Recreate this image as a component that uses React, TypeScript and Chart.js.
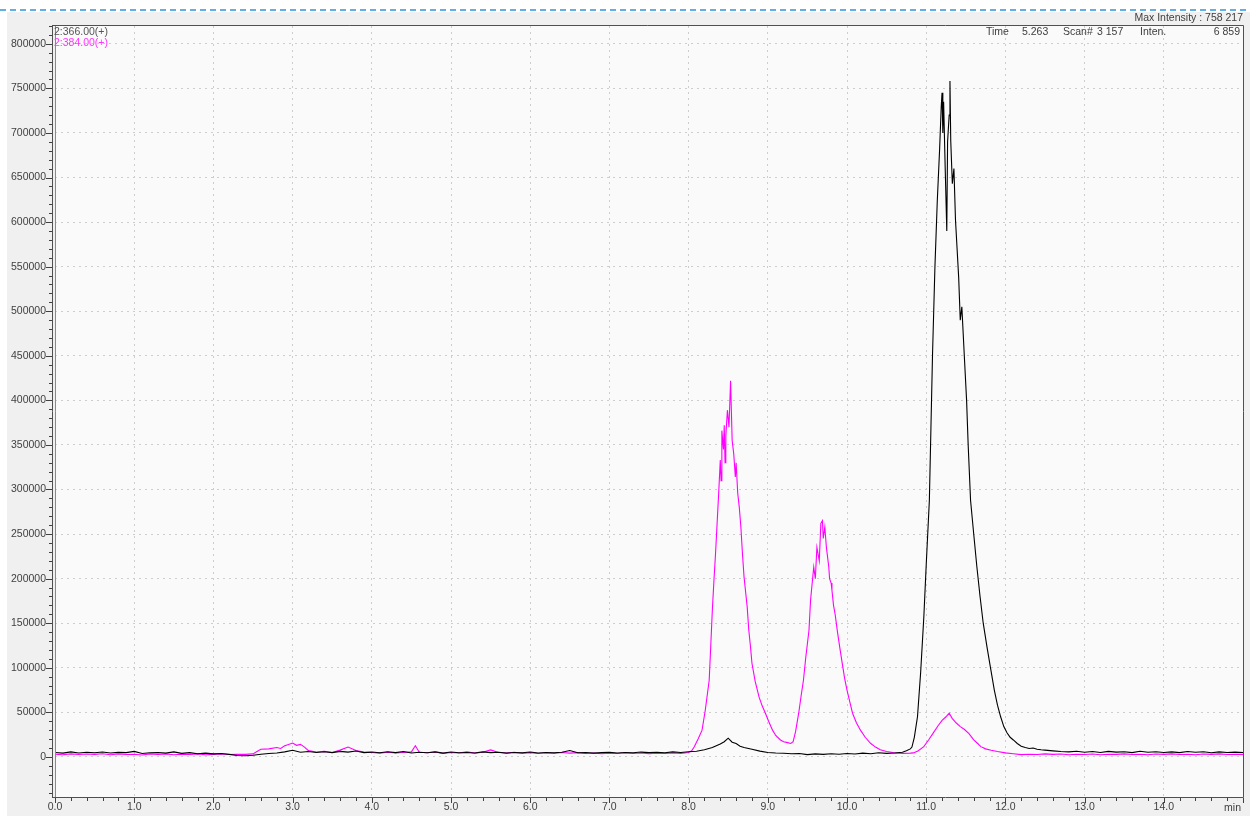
import React, { useEffect, useRef } from 'react';
import { Chart, registerables } from 'chart.js';

Chart.register(...registerables);

// ---- Data (time in min, intensity) ----
const blackLabel = '2:366.00(+)';
const magentaLabel = '2:384.00(+)';

const blackTimes = [
  0.0, 0.1, 0.2, 0.3, 0.4, 0.5, 0.6, 0.7, 0.8, 0.9,
  1.0, 1.1, 1.2, 1.3, 1.4, 1.5, 1.6, 1.7, 1.8, 1.9,
  2.0, 2.1, 2.2, 2.3, 2.4, 2.5, 2.6, 2.7, 2.8, 2.9,
  3.0, 3.1, 3.2, 3.3, 3.4, 3.5, 3.6, 3.7, 3.8, 3.9,
  4.0, 4.1, 4.2, 4.3, 4.4, 4.5, 4.6, 4.7, 4.8, 4.9,
  5.0, 5.1, 5.2, 5.3, 5.4, 5.5, 5.6, 5.7, 5.8, 5.9,
  6.0, 6.1, 6.2, 6.3, 6.4, 6.5, 6.6, 6.7, 6.8, 6.9,
  7.0, 7.1, 7.2, 7.3, 7.4, 7.5, 7.6, 7.7, 7.8, 7.9,
  8.0, 8.1, 8.2, 8.3, 8.35, 8.4, 8.45, 8.5, 8.55, 8.6, 8.65, 8.7, 8.8, 8.9,
  9.0, 9.1, 9.2, 9.3, 9.4, 9.5, 9.6, 9.7, 9.8, 9.9,
  10.0, 10.1, 10.2, 10.3, 10.4, 10.5, 10.6, 10.7, 10.75,
  10.8, 10.82, 10.85, 10.89, 10.93, 10.97, 11.0, 11.04, 11.06, 11.08,
  11.11, 11.14, 11.17, 11.19, 11.2, 11.21, 11.22, 11.24, 11.26, 11.27,
  11.29, 11.3, 11.31, 11.33, 11.35, 11.37, 11.39, 11.41, 11.43, 11.45,
  11.48, 11.51, 11.53, 11.56, 11.6, 11.64, 11.68, 11.72, 11.77, 11.81,
  11.86, 11.9, 11.94, 11.98, 12.02, 12.06, 12.1, 12.15, 12.2, 12.25,
  12.3, 12.35, 12.4, 12.45, 12.5, 12.6, 12.7, 12.8, 12.9,
  13.0, 13.1, 13.2, 13.3, 13.4, 13.5, 13.6, 13.7, 13.8, 13.9,
  14.0, 14.1, 14.2, 14.3, 14.4, 14.5, 14.6, 14.7, 14.8, 14.9, 15.0,
];
const blackValues = [
  5000, 4200, 5600, 4400, 5200, 4600, 5400, 4300, 5100, 4800,
  6200, 3800, 4600, 5000, 4200, 5600, 4000, 4800, 3600, 4200,
  3400, 3800, 2800, 1500, 1200, 1800, 3000, 3800, 4400, 5600,
  7400, 5200, 6000, 5000, 5800, 4800, 6200, 5400, 6600, 4800,
  5400, 4600, 5800, 4800, 6000, 4400, 5200, 4600, 5600, 4200,
  5400, 4600, 5000, 4400, 5600, 4800, 5200, 4200, 5000, 4600,
  5400, 4400, 5000, 4600, 5200, 7200, 4600, 5000, 4200, 4800,
  5200, 4400, 5000, 4600, 5400, 4800, 5200, 4600, 5600, 5000,
  5800, 6400, 8000, 10500, 12500, 14500, 17000, 21000, 16500, 15000, 12000, 10500, 8500, 6500,
  5000, 4400, 4000, 3600, 3800, 2600, 3400, 2800, 3600, 3000,
  3800, 3200, 4200, 3600, 4600, 4000, 4400, 5200, 6800,
  9000, 11000, 22000, 45000, 95000, 157000, 215000, 288000, 370000, 452000,
  549000, 624000, 683000, 730000, 745000, 700000, 735000, 660000, 590000, 690000,
  720000, 758217, 691000, 643000, 660000, 602000, 570000, 538000, 490000, 505000,
  452000, 400000, 350000, 288000, 250000, 213000, 180000, 150000, 122000, 101000,
  75000, 58000, 45000, 34000, 27000, 22000, 19000, 15000, 12000, 10500,
  9500, 10000, 8500, 8000, 7600, 6800, 6000, 5600, 6400,
  5200, 6000, 5000, 6200, 5400, 5800, 4800, 6400, 5200, 5800,
  5000, 5600, 4800, 6000, 5200, 5800, 4600, 5600, 5000, 5400, 5000,
];

const magentaTimes = [
  0.0, 0.1, 0.2, 0.3, 0.4, 0.5, 0.6, 0.7, 0.8, 0.9,
  1.0, 1.1, 1.2, 1.3, 1.4, 1.5, 1.6, 1.7, 1.8, 1.9,
  2.0, 2.1, 2.2, 2.3, 2.4, 2.5,
  2.55, 2.6, 2.7, 2.8, 2.85, 2.9, 2.95, 3.0, 3.05, 3.1, 3.15, 3.2, 3.3, 3.4, 3.5, 3.6, 3.7, 3.8, 3.9,
  4.0, 4.1, 4.2, 4.3, 4.4, 4.5, 4.55, 4.6, 4.7, 4.8, 4.9,
  5.0, 5.1, 5.2, 5.3, 5.4, 5.5, 5.6, 5.7, 5.8, 5.9,
  6.0, 6.1, 6.2, 6.3, 6.4, 6.5, 6.6, 6.7, 6.8, 6.9,
  7.0, 7.1, 7.2, 7.3, 7.4, 7.5, 7.6, 7.7, 7.8, 7.9,
  8.0, 8.04, 8.07, 8.12, 8.17, 8.21, 8.26, 8.28, 8.3, 8.32,
  8.34, 8.36, 8.38, 8.4, 8.41, 8.42, 8.44, 8.45, 8.46, 8.47,
  8.49, 8.51, 8.53, 8.55, 8.57, 8.59, 8.6, 8.62, 8.64, 8.66,
  8.68, 8.7, 8.72, 8.74, 8.76, 8.78, 8.8, 8.84, 8.89, 8.93,
  8.97, 9.01, 9.06, 9.1, 9.16, 9.2, 9.25, 9.29, 9.32, 9.35,
  9.39, 9.42, 9.45, 9.48, 9.52, 9.54, 9.58, 9.6, 9.62, 9.65,
  9.67, 9.69, 9.7, 9.72, 9.74, 9.77, 9.78, 9.8, 9.81, 9.83,
  9.85, 9.88, 9.91, 9.94, 9.97, 10.0, 10.04, 10.07, 10.12, 10.17,
  10.23, 10.3, 10.36, 10.42, 10.5, 10.6, 10.7, 10.8, 10.84, 10.9,
  10.97, 11.03, 11.09, 11.15, 11.2, 11.25, 11.29, 11.33, 11.38, 11.43,
  11.48, 11.54, 11.6, 11.65, 11.69, 11.75, 11.82, 11.9, 12.0, 12.1,
  12.2, 12.3, 12.4, 12.5, 12.6, 12.7, 12.8, 12.9,
  13.0, 13.1, 13.2, 13.3, 13.4, 13.5, 13.6, 13.7, 13.8, 13.9,
  14.0, 14.1, 14.2, 14.3, 14.4, 14.5, 14.6, 14.7, 14.8, 14.9, 15.0,
];
const magentaValues = [
  3000, 2400, 3400, 2600, 3200, 2800, 3600, 2400, 3200, 2600,
  3000, 2200, 3400, 2800, 3200, 2400, 3000, 2600, 3400, 2400,
  2800, 3200, 2600, 3000, 2800, 3400,
  6000, 8500, 9000, 10500, 9500, 12500, 14000, 15500, 13000, 14000, 11000, 7000, 5500, 6200, 5000, 7600, 11000, 7200, 5400,
  5000, 4200, 5200, 4400, 5000, 5600, 12500, 5200, 4600, 5400, 4000,
  5000, 4400, 5600, 4200, 5200, 7800, 5000, 4400, 5200, 4000,
  4800, 3800, 4600, 4000, 5000, 4200, 4800, 3800, 4400, 3600,
  4200, 3800, 4600, 3800, 4400, 3600, 4200, 3800, 4400, 4000,
  5000, 7000, 11000, 20000, 30000, 52000, 86000, 125000, 165000, 198000,
  228000, 262000, 296000, 333000, 310000, 366000, 345000, 372000, 330000, 360000,
  389000, 370000, 422000, 355000, 340000, 314000, 330000, 296000, 280000, 258000,
  228000, 202000, 185000, 168000, 142000, 125000, 105000, 85000, 67000, 57000,
  49000, 40000, 30000, 24000, 19000, 17000, 16000, 15000, 17000, 28000,
  49000, 68000, 86000, 112000, 142000, 176000, 213000, 200000, 235000, 220000,
  262000, 265000, 245000, 258000, 235000, 213000, 200000, 195000, 187000, 170000,
  160000, 140000, 122000, 105000, 88000, 75000, 60000, 49000, 38000, 30000,
  22000, 15000, 11000, 8000, 6000, 4500, 4000, 4200, 4500, 7000,
  11500, 19000, 27000, 35000, 41000, 45000, 49000, 43000, 38000, 34000,
  31000, 26000, 19000, 15000, 11500, 9000, 7500, 6000, 4500, 3500,
  2500, 3000, 2600, 3400, 2800, 3200, 2400, 3000,
  2600, 3200, 2400, 3000, 2800, 3400, 2600, 3000, 2400, 3200,
  2800, 3400, 2600, 3000, 2400, 3200, 2800, 3400, 2600, 3000, 2800,
];

const xTickValues = [0, 1, 2, 3, 4, 5, 6, 7, 8, 9, 10, 11, 12, 13, 14];
const yTickValues = [
  0, 50000, 100000, 150000, 200000, 250000, 300000, 350000, 400000,
  450000, 500000, 550000, 600000, 650000, 700000, 750000, 800000,
];
const xMinorStep = 0.2;
const yMinorStep = 10000;
const X_MIN = 0;
const X_MAX = 15;
const Y_MIN = -45000;
const Y_MAX = 820000;

const headerMax = 'Max Intensity : 758 217';
const headerTime = 'Time';
const headerTimeVal = '5.263';
const headerScan = 'Scan#';
const headerScanVal = '3 157';
const headerInten = 'Inten.';
const headerIntenVal = '6 859';
const xUnit = 'min';

const FONT = '"Liberation Sans", Arial, sans-serif';
const TXT = '#404040';

function toPoints(ts: number[], vs: number[]) {
  const n = Math.min(ts.length, vs.length);
  const out: { x: number; y: number }[] = [];
  for (let i = 0; i < n; i++) out.push({ x: ts[i], y: vs[i] });
  return out;
}

const decorPlugin = {
  id: 'decor',
  beforeDraw(chart: any) {
    const { ctx, chartArea: a, width, height } = chart;
    ctx.save();
    ctx.fillStyle = '#ffffff';
    ctx.fillRect(0, 0, width, height);
    ctx.fillStyle = '#f0f0f0';
    ctx.fillRect(7, 12, width - 7, height - 12);
    ctx.fillStyle = '#fafafa';
    ctx.fillRect(a.left, a.top, a.right - a.left, a.bottom - a.top);
    ctx.strokeStyle = '#2f95d8';
    ctx.lineWidth = 1.5;
    ctx.setLineDash([6, 4]);
    ctx.beginPath();
    ctx.moveTo(0, 10);
    ctx.lineTo(width, 10);
    ctx.stroke();
    ctx.restore();
  },
  afterDraw(chart: any) {
    const { ctx, chartArea: a } = chart;
    const xs = chart.scales.x;
    const ys = chart.scales.y;
    ctx.save();
    ctx.setLineDash([]);
    // frame
    ctx.lineWidth = 1;
    ctx.strokeStyle = '#505050';
    ctx.beginPath();
    ctx.moveTo(52.5, a.top - 0.5);
    ctx.lineTo(52.5, a.bottom + 0.5);
    ctx.moveTo(52, a.top - 0.5);
    ctx.lineTo(a.right + 0.5, a.top - 0.5);
    ctx.lineTo(a.right + 0.5, a.bottom + 0.5);
    ctx.lineTo(52, a.bottom + 0.5);
    ctx.stroke();
    ctx.strokeStyle = '#8a8a8a';
    ctx.beginPath();
    ctx.moveTo(a.left + 0.5, a.top);
    ctx.lineTo(a.left + 0.5, a.bottom);
    ctx.stroke();
    // y ticks
    ctx.strokeStyle = '#404040';
    ctx.beginPath();
    for (let v = -40000; v <= Y_MAX; v += yMinorStep) {
      const py = Math.round(ys.getPixelForValue(v)) + 0.5;
      if (py < a.top || py > a.bottom) continue;
      const major = v % 50000 === 0;
      ctx.moveTo(major ? 46 : 49, py);
      ctx.lineTo(52, py);
    }
    // x ticks
    for (let i = 0; i <= Math.round((X_MAX - X_MIN) / xMinorStep); i++) {
      const v = X_MIN + i * xMinorStep;
      const px = Math.round(xs.getPixelForValue(v)) + 0.5;
      const major = Math.abs(v - Math.round(v)) < 1e-6;
      ctx.moveTo(px, a.bottom + 1);
      ctx.lineTo(px, a.bottom + (major ? 6 : 4));
    }
    ctx.stroke();
    // texts
    ctx.font = `10.5px ${FONT}`;
    ctx.fillStyle = TXT;
    ctx.textBaseline = 'middle';
    ctx.textAlign = 'right';
    ctx.fillText(headerMax, a.right, 18);
    ctx.fillText(xUnit, a.right - 2, 808);
    ctx.textAlign = 'left';
    ctx.fillText(headerTime, 986, 32);
    ctx.fillText(headerTimeVal, 1022, 32);
    ctx.fillText(headerScan, 1063, 32);
    ctx.fillText(headerScanVal, 1097, 32);
    ctx.fillText(headerInten, 1140, 32);
    ctx.textAlign = 'right';
    ctx.fillText(headerIntenVal, a.right - 3, 32);
    ctx.textAlign = 'left';
    ctx.fillStyle = '#555555';
    ctx.fillText(blackLabel, 54, 32);
    ctx.fillStyle = '#ff33ff';
    ctx.fillText(magentaLabel, 54, 43);
    ctx.restore();
  },
};

export default function App() {
  const ref = useRef<HTMLCanvasElement | null>(null);
  useEffect(() => {
    if (!ref.current) return;
    const chart = new Chart(ref.current, {
      type: 'line',
      data: {
        datasets: [
          {
            label: blackLabel,
            data: toPoints(blackTimes, blackValues),
            borderColor: '#000000',
            borderWidth: 1.1,
            pointRadius: 0,
            tension: 0,
            fill: false,
          },
          {
            label: magentaLabel,
            data: toPoints(magentaTimes, magentaValues),
            borderColor: '#ff00ff',
            borderWidth: 1.1,
            pointRadius: 0,
            tension: 0,
            fill: false,
          },
        ],
      },
      options: {
        animation: false,
        responsive: false,
        devicePixelRatio: 1,
        layout: { padding: { left: 7, right: 7, top: 26, bottom: 0 } },
        plugins: { legend: { display: false }, tooltip: { enabled: false } },
        scales: {
          x: {
            type: 'linear',
            min: X_MIN,
            max: X_MAX,
            afterBuildTicks: (s: any) => {
              s.ticks = xTickValues.map((v) => ({ value: v }));
            },
            afterFit: (s: any) => {
              s.height = 19;
            },
            ticks: {
              autoSkip: false,
              maxRotation: 0,
              padding: 4,
              color: TXT,
              font: { family: FONT, size: 10.5 },
              callback: (v: any) => Number(v).toFixed(1),
            },
            grid: { color: '#cdcdcd', lineWidth: 1, drawTicks: false },
            border: { display: false, dash: [2, 4] },
          },
          y: {
            type: 'linear',
            min: Y_MIN,
            max: Y_MAX,
            afterBuildTicks: (s: any) => {
              s.ticks = yTickValues.map((v) => ({ value: v }));
            },
            afterFit: (s: any) => {
              s.width = 48;
            },
            ticks: {
              autoSkip: false,
              padding: 9,
              color: TXT,
              font: { family: FONT, size: 10.5 },
              callback: (v: any) => String(v),
            },
            grid: { color: '#cdcdcd', lineWidth: 1, drawTicks: false },
            border: { display: false, dash: [2, 4] },
          },
        },
      },
      plugins: [decorPlugin],
    });
    return () => chart.destroy();
  }, []);
  return (
    <div style={{ position: 'absolute', left: 0, top: 0, width: 1250, height: 816 }}>
      <canvas ref={ref} width={1250} height={816} style={{ display: 'block' }} />
    </div>
  );
}
